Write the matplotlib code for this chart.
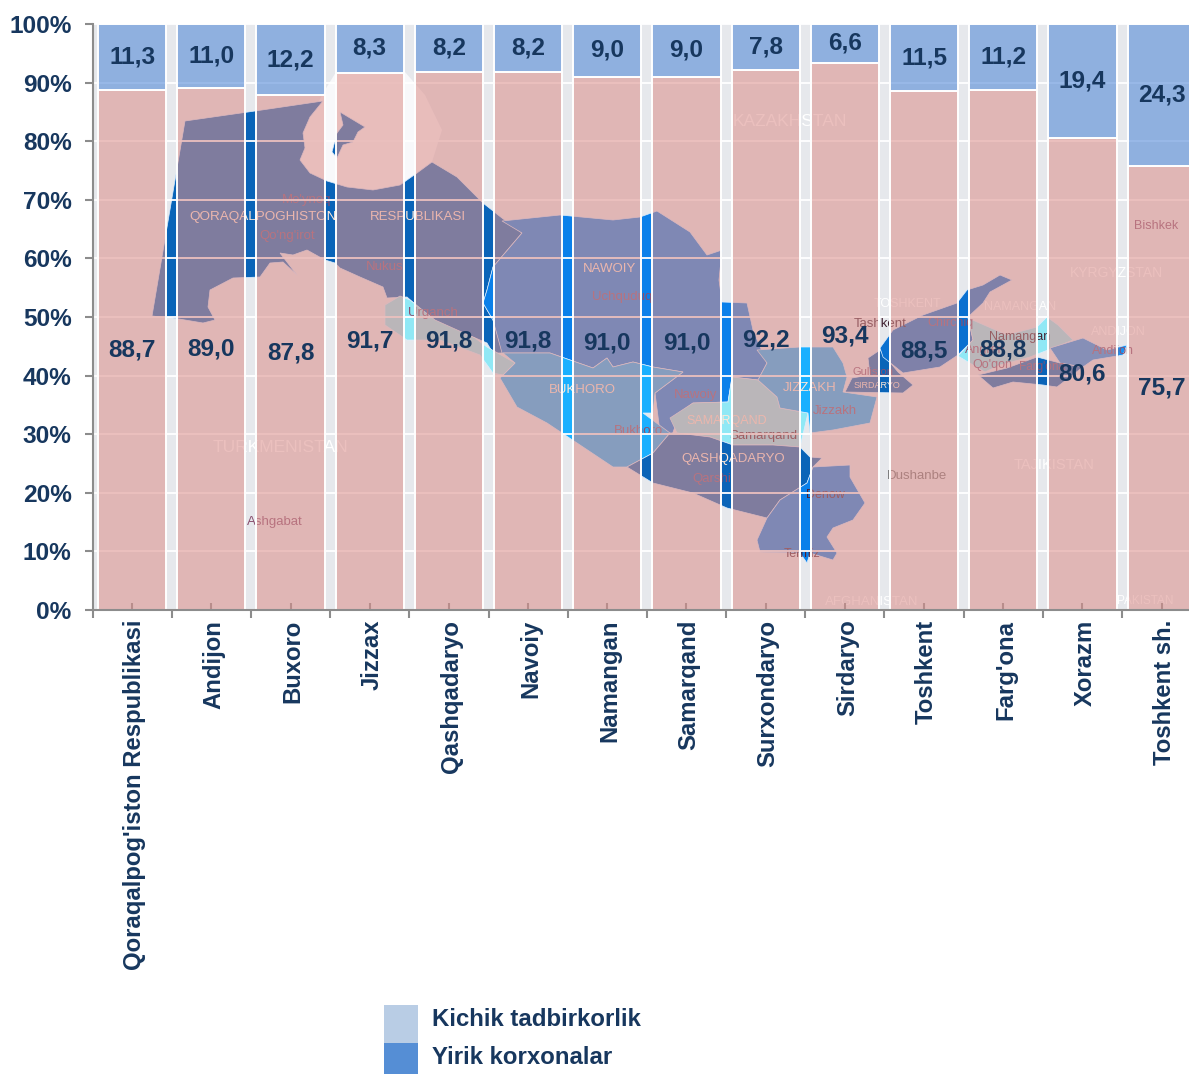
import matplotlib
matplotlib.use("Agg")
import matplotlib.pyplot as plt
from matplotlib.patches import Polygon, Rectangle
from matplotlib.colors import to_rgba
from matplotlib.ticker import FixedLocator, FixedFormatter, NullFormatter
from matplotlib.transforms import ScaledTranslation

plt.rcParams['font.family'] = ['Liberation Sans', 'DejaVu Sans']

regions = ["Qoraqalpog'iston Respublikasi", "Andijon", "Buxoro", "Jizzax", "Qashqadaryo",
           "Navoiy", "Namangan", "Samarqand", "Surxondaryo", "Sirdaryo", "Toshkent",
           "Farg'ona", "Xorazm", "Toshkent sh."]
kichik = [88.7, 89.0, 87.8, 91.7, 91.8, 91.8, 91.0, 91.0, 92.2, 93.4, 88.5, 88.8, 80.6, 75.7]
yirik = [11.3, 11.0, 12.2, 8.3, 8.2, 8.2, 9.0, 9.0, 7.8, 6.6, 11.5, 11.2, 19.4, 24.3]
y_ticks = [0, 10, 20, 30, 40, 50, 60, 70, 80, 90, 100]
legend_names = ["Kichik tadbirkorlik", "Yirik korxonalar"]

NAVY = '#17375E'
GREY = '#8C8C8C'
CITY = '#8A5070'
W, H = 1189, 1074

# background map (decorative picture behind the translucent bars), in pixel coordinates
map_shapes = [
    ('#0A64B8', [(185,121),(255,111),(323,101),(310,117),(303,133),(305,148),(300,160),(310,173),(327,181),(347,187),(373,190),(400,185),(417,173),(432,162),(457,177),(483,203),(502,218),(522,233),(493,267),(487,290),(483,303),(493,320),(503,353),(493,353),(487,343),(473,337),(453,330),(433,320),(407,297),(387,298),(383,287),(360,277),(340,268),(335,263),(325,260),(307,250),(293,255),(280,253),(297,275),(283,262),(270,263),(260,277),(233,278),(210,290),(208,307),(215,320),(203,323),(173,318),(152,316)]),
    ('#0A64B8', [(340,112),(365,127),(358,132),(353,142),(343,145),(337,158),(332,152),(337,133),(343,125)]),
    ('#0A80EA', [(502,221),(560,215),(613,220),(640,217),(657,211),(690,232),(707,255),(722,250),(719,280),(722,302),(747,303),(753,330),(767,363),(758,380),(732,377),(728,402),(693,403),(680,413),(672,435),(660,432),(655,393),(683,372),(653,367),(633,362),(613,367),(607,358),(593,368),(570,360),(550,353),(502,353),(493,320),(483,303),(487,290),(493,267),(522,233)]),
    ('#1AB0FF', [(500,378),(515,363),(503,353),(550,353),(570,360),(593,368),(607,358),(613,367),(633,362),(653,367),(683,372),(655,393),(653,413),(643,413),(670,433),(653,453),(627,467),(613,467),(577,443),(547,423),(517,407)]),
    ('#90E8F5', [(385,305),(400,296),(410,300),(435,320),(475,338),(487,347),(515,363),(503,375),(493,373),(480,355),(440,340),(407,340),(385,325)]),
    ('#90E8F5', [(670,418),(693,403),(728,402),(732,377),(758,380),(777,397),(780,408),(808,413),(800,447),(773,445),(733,445),(710,437),(677,433)]),
    ('#1AB0FF', [(758,380),(767,363),(757,350),(800,347),(833,347),(843,363),(847,377),(843,392),(877,397),(870,423),(833,430),(810,433),(808,413),(780,408),(777,397)]),
    ('#0A64B8', [(845,392),(852,378),(870,375),(868,358),(880,350),(898,372),(913,385),(903,393)]),
    ('#0A64B8', [(627,467),(653,453),(670,433),(677,433),(710,437),(733,445),(773,445),(800,447),(810,457),(822,458),(813,467),(807,483),(780,500),(767,518),(727,508),(693,493),(653,483)]),
    ('#0A80EA', [(813,467),(850,465),(850,477),(865,503),(853,520),(833,528),(827,537),(837,553),(833,560),(810,553),(807,563),(800,553),(760,552),(757,540),(767,518),(780,500),(807,483)]),
    ('#0A70D0', [(1012,280),(1000,275),(983,285),(967,290),(957,303),(923,315),(893,330),(880,348),(883,357),(903,373),(940,367),(958,355),(973,340),(968,317),(983,303),(990,292)]),
    ('#90E8F5', [(968,318),(1007,335),(1037,327),(1047,317),(1058,325),(1073,340),(1053,348),(1030,357),(1000,365),(985,372),(958,356),(973,340)]),
    ('#0A64B8', [(978,375),(1007,368),(1037,357),(1060,363),(1083,367),(1057,387),(1043,385),(1013,382),(993,388)]),
    ('#1A90F0', [(1050,348),(1083,338),(1107,350),(1127,345),(1123,355),(1093,360),(1083,367),(1060,363)]),
]
# light Aral Sea patch
aral_shape = [(325,90),(310,117),(303,133),(305,148),(300,160),(310,173),(327,181),(347,187),(373,190),(400,185),(417,173),(432,162),(442,130),(425,95),(405,72),(336,72)]

map_labels = [
    ("QORAQALPOGHISTON", 263, 217, '#FFE8D8', 9.7), ("RESPUBLIKASI", 418, 217, '#FFE8D8', 9.5),
    ("Mo'ynoq", 307, 200, CITY, 9.5), ("Qo'ng'irot", 287, 236, CITY, 9.5),
    ("Nukus", 385, 267, CITY, 9.5), ("Urganch", 433, 313, CITY, 9.5),
    ("NAWOIY", 609, 269, '#FFE8D8', 9.5), ("Uchquduq", 622, 297, CITY, 9.5),
    ("BUKHORO", 582, 390, '#FFE8D8', 9.5), ("Bukhoro", 638, 431, CITY, 9.5),
    ("Nawoiy", 696, 395, CITY, 9.5), ("SAMARQAND", 727, 421, '#FFE8D8', 9),
    ("Samarqand", 763, 436, '#502030', 9.5), ("QASHQADARYO", 733, 459, '#FFE8D8', 9.5),
    ("Qarshi", 712, 479, CITY, 9.5), ("JIZZAKH", 810, 388, '#FFE8D8', 9.5),
    ("Jizzakh", 835, 411, CITY, 9.5), ("SIRDARYO", 877, 386, '#FFE8D8', 6.5),
    ("Guliston", 873, 372, CITY, 8), ("Denow", 825, 495, '#502030', 9),
    ("Termiz", 802, 554, '#502030', 9), ("Tashkent", 880, 324, '#402030', 9.5),
    ("Chirchiq", 951, 323, CITY, 9), ("Angren", 985, 350, CITY, 9),
    ("Namangan", 1020, 337, '#402030', 9), ("Qo'qon", 992, 365, CITY, 9),
    ("Farg'ona", 1042, 367, CITY, 8.5), ("Andijon", 1113, 351, CITY, 9),
    ("Dushanbe", 917, 476, '#707070', 9.5), ("Ashgabat", 275, 522, CITY, 9.5),
    ("Bishkek", 1156, 226, CITY, 9), ("KAZAKHSTAN", 790, 122, 'white', 12.5),
    ("KYRGYZSTAN", 1116, 273, 'white', 10), ("TURKMENISTAN", 280, 447, 'white', 12.5),
    ("TAJIKISTAN", 1054, 465, 'white', 10.5), ("AFGHANISTAN", 872, 602, 'white', 9.5),
    ("PAKISTAN", 1145, 601, 'white', 8.5), ("TOSHKENT", 908, 304, 'white', 9),
    ("NAMANGAN", 1020, 307, 'white', 9), ("ANDIJON", 1118, 332, 'white', 9),
]

fig = plt.figure(figsize=(W / 100, H / 100), dpi=100, facecolor='white')

# picture layer
mp = fig.add_axes([0, 0, 1, 1], zorder=0)
mp.set_xlim(0, W)
mp.set_ylim(H, 0)
mp.axis('off')
mp.add_patch(Rectangle((93, 24), W - 93, 586, facecolor='#E6E8EC', edgecolor='none', zorder=0))
mp.add_patch(Polygon(aral_shape, closed=True, facecolor='#F8F8FA', edgecolor='none', zorder=1))
for colour, pts in map_shapes:
    mp.add_patch(Polygon(pts, closed=True, facecolor=colour, edgecolor='#DDEEFF', linewidth=0.5, zorder=2))
for name, x, y, col, size in map_labels:
    mp.text(x, y, name, color=col, fontsize=size, ha='center', va='center', zorder=3)

# chart layer: axes run on past the right edge of the canvas, as in the reference
step = 79.2
ax = fig.add_axes([92.5 / W, (H - 610) / H, step * 14 / W, 586 / H], zorder=1)
ax.patch.set_alpha(0)
x = list(range(len(regions)))
pink = to_rgba('#DC8F8B', 0.56)
blue = to_rgba('#4B84D6', 0.56)
ax.bar(x, kichik, width=0.86, color=pink, edgecolor='white', linewidth=1.4, zorder=2)
ax.bar(x, yirik, bottom=kichik, width=0.86, color=blue, edgecolor='white', linewidth=1.4, zorder=2)

for i in x:
    ax.text(i, kichik[i] / 2, f"{kichik[i]:.1f}".replace('.', ','), ha='center', va='center',
            color=NAVY, fontsize=17.6, fontweight='bold', zorder=4)
    ax.text(i, kichik[i] + yirik[i] / 2, f"{yirik[i]:.1f}".replace('.', ','), ha='center', va='center',
            color=NAVY, fontsize=17.6, fontweight='bold', zorder=4)

ax.set_xlim(-0.5, len(regions) - 0.5)
ax.set_ylim(0, 100)
ax.set_axisbelow(True)
ax.yaxis.grid(True, color='white', linewidth=1.3)
ax.xaxis.grid(False)

ax.set_yticks(y_ticks)
ax.set_yticklabels([f"{v}%" for v in y_ticks], fontsize=17.6, fontweight='bold', color=NAVY)
ax.tick_params(axis='y', length=6, width=1.5, color=GREY, pad=9)

ax.xaxis.set_major_locator(FixedLocator([i - 0.5 for i in range(len(regions) + 1)]))
ax.xaxis.set_major_formatter(NullFormatter())
ax.xaxis.set_minor_locator(FixedLocator(x))
ax.xaxis.set_minor_formatter(FixedFormatter(regions))
ax.tick_params(axis='x', which='major', length=6, width=1.5, color=GREY, direction='out')
ax.tick_params(axis='x', which='minor', length=5, width=1.5, color=GREY, direction='in', pad=7)
nudge = ScaledTranslation(2.5 / 100, 0, fig.dpi_scale_trans)
for lab in ax.get_xticklabels(minor=True):
    lab.set(rotation=90, fontsize=17.2, fontweight='bold', color=NAVY, ha='center', va='top')
    lab.set_transform(lab.get_transform() + nudge)

for side in ('top', 'right'):
    ax.spines[side].set_visible(False)
for side in ('left', 'bottom'):
    ax.spines[side].set_color(GREY)
    ax.spines[side].set_linewidth(1.5)

# legend
fig.add_artist(Rectangle((384 / W, (H - 1043) / H), 34 / W, 38 / H, transform=fig.transFigure,
                         facecolor='#B9CDE5', edgecolor='none'))
fig.add_artist(Rectangle((384 / W, 0), 34 / W, (H - 1043) / H, transform=fig.transFigure,
                         facecolor='#558ED5', edgecolor='none'))
fig.text(432 / W, (H - 1020) / H, legend_names[0], color=NAVY, fontsize=17.3, fontweight='bold', va='center')
fig.text(432 / W, (H - 1057) / H, legend_names[1], color=NAVY, fontsize=17.3, fontweight='bold', va='center')

fig.savefig('out.png', dpi=100)
